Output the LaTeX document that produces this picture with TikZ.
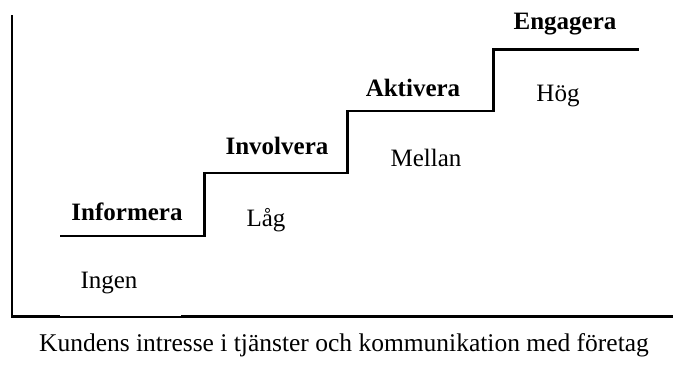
\documentclass[tikz,border=0pt]{standalone}
\usepackage{fontspec}
\setmainfont{Liberation Serif}
\tikzset{
  stair/.style={line width=2.2pt, line join=miter},
  axisline/.style={line width=2.2pt},
  stage/.style={font=\fontsize{25}{27}\selectfont\bfseries, inner sep=0pt},
  level/.style={font=\fontsize{25}{27}\selectfont, inner sep=0pt},
  caption/.style={font=\fontsize{25.5}{27}\selectfont, inner sep=0pt}
}
\begin{document}
\begin{tikzpicture}[x=1pt,y=-1pt]
  \useasboundingbox (0,0) rectangle (673,378);
  % axes
  \coordinate (ytop) at (12,15);
  \coordinate (origin) at (12,316.5);
  \coordinate (xend) at (673,316.5);
  \draw[axisline] (ytop) -- (origin) -- (60,316.5);
  \draw[line width=1.2pt] (60,317) -- (181,317);
  \draw[axisline] (181,316.5) -- (xend);
  % staircase
  \coordinate (s0) at (60,236);
  \coordinate (s1) at (204.5,236);
  \coordinate (s2) at (204.5,173);
  \coordinate (s3) at (347.5,173);
  \coordinate (s4) at (347.5,111);
  \coordinate (s5) at (493.5,111);
  \coordinate (s6) at (493.5,49.5);
  \coordinate (s7) at (639,49.5);
  \draw[stair] (s0) -- (s1) -- (s2) -- (s3) -- (s4) -- (s5) -- (s6) -- (s7);
  % stage names
  \node[stage] (informera) at (127,212) {Informera};
  \node[stage] (involvera) at (277,146) {Involvera};
  \node[stage] (aktivera) at (413,88) {Aktivera};
  \node[stage] (engagera) at (565,24) {Engagera};
  % interest levels
  \node[level] (ingen) at (109,283) {Ingen};
  \node[level] (lag) at (266,220) {Låg};
  \node[level] (mellan) at (426,158) {Mellan};
  \node[level] (hog) at (558,96) {Hög};
  % axis caption
  \node[caption] (xlabel) at (344,345) {Kundens intresse i tjänster och kommunikation med företag};
\end{tikzpicture}
\end{document}
